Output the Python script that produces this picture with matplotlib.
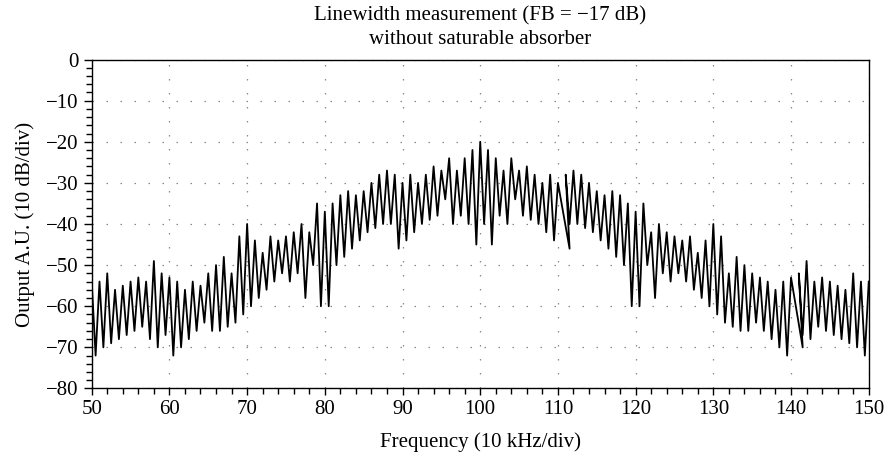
import numpy as np
import matplotlib
matplotlib.use('Agg')
import matplotlib.pyplot as plt
from matplotlib.ticker import MultipleLocator

# 频率轴：每 0.5 格一个采样点（50 ~ 150）
freq = np.arange(50, 150.5, 0.5)
# 两处采样点在原图中被画到了后一个位置上
freq[(110.5 - 50) * 2 == np.arange(len(freq))] = 111.5
freq[(140.5 - 50) * 2 == np.arange(len(freq))] = 141.5

# 输出电平 (dB)，按 freq 的顺序
level = [
    -54, -72, -54, -70, -52, -69, -56, -68, -55, -67,   # 50 - 54.5
    -54, -66, -53, -65, -54, -68, -49, -70, -52, -67,   # 55 - 59.5
    -53, -72, -54, -70, -56, -68, -54, -66, -55, -64,   # 60 - 64.5
    -52, -66, -50, -66, -48, -65, -52, -64, -43, -62,   # 65 - 69.5
    -40, -60, -44, -58, -47, -56, -43, -54, -44, -52,   # 70 - 74.5
    -43, -54, -42, -52, -40, -58, -42, -50, -35, -60,   # 75 - 79.5
    -37, -60, -35, -50, -33, -48, -32, -46, -33, -44,   # 80 - 84.5
    -32, -42, -30, -41, -28, -40, -27, -40, -28, -46,   # 85 - 89.5
    -30, -44, -28, -42, -30, -40, -28, -39, -26, -38,   # 90 - 94.5
    -27, -34, -24, -40, -27, -38, -24, -40, -22, -45,   # 95 - 99.5
    -20, -40, -22, -45, -24, -38, -27, -40, -24, -34,   # 100 - 104.5
    -27, -38, -26, -39, -28, -40, -30, -42, -28, -44,   # 105 - 109.5
    -30, -46, -28, -40, -27, -40, -28, -41, -30, -42,   # 110 - 114.5
    -32, -44, -33, -46, -32, -48, -33, -50, -35, -60,   # 115 - 119.5
    -37, -60, -35, -50, -42, -58, -40, -52, -42, -54,   # 120 - 124.5
    -43, -52, -44, -54, -43, -56, -47, -58, -44, -60,   # 125 - 129.5
    -40, -62, -43, -64, -52, -65, -48, -66, -50, -66,   # 130 - 134.5
    -52, -64, -53, -66, -54, -68, -56, -70, -54, -72,   # 135 - 139.5
    -53, -70, -52, -67, -49, -68, -54, -65, -53, -66,   # 140 - 144.5
    -54, -67, -55, -68, -56, -69, -52, -70, -54, -72,   # 145 - 149.5
    -54,                                                # 150
]

plt.rcParams['font.family'] = ['Liberation Serif', 'DejaVu Serif']

fig = plt.figure(figsize=(8.87, 4.55), dpi=100)
ax = fig.add_axes([0.1034, 0.1462, 0.8760, 0.7230])

ax.plot(freq, level, color='black', linewidth=1.3)

ax.set_xlim(50, 150)
ax.set_ylim(-80, 0)
ax.xaxis.set_major_locator(MultipleLocator(10))
ax.xaxis.set_minor_locator(MultipleLocator(2))
ax.yaxis.set_major_locator(MultipleLocator(10))
ax.yaxis.set_minor_locator(MultipleLocator(2))

ax.tick_params(which='major', direction='out', length=5, width=1, labelsize=15, colors='black')
ax.tick_params(which='minor', direction='out', length=4, width=1)
ax.tick_params(axis='y', which='major', length=6)

# 网格：灰色点线
ax.grid(True, which='major', color='#888888', linestyle=(0, (1.2, 10)), linewidth=0.9)

for s in ax.spines.values():
    s.set_linewidth(1.0)

ax.set_title('Linewidth measurement (FB = \u221217 dB)\nwithout saturable absorber',
             fontsize=15, pad=11, linespacing=1.35)
ax.set_xlabel('Frequency (10 kHz/div)', fontsize=15, labelpad=9)
ax.set_ylabel('Output A.U. (10 dB/div)', fontsize=15, labelpad=8)

fig.savefig('out.png', dpi=100)
